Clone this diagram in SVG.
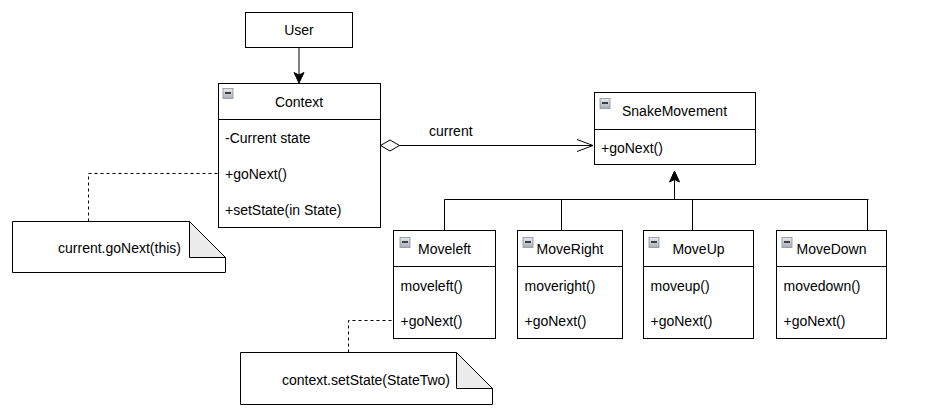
<svg xmlns="http://www.w3.org/2000/svg" width="929" height="416" viewBox="0 0 929 416">
<defs>
<style>
.box{fill:#fff;stroke:#000;stroke-width:1}
.ln{fill:none;stroke:#000;stroke-width:1}
.dash{fill:none;stroke:#000;stroke-width:1;stroke-dasharray:3 3}
.note{fill:#fff;stroke:#000;stroke-width:1}
.fold{fill:#ebebeb;stroke:#000;stroke-width:1;stroke-linejoin:miter}
text{font-family:"Liberation Sans",Arial,sans-serif;font-size:14px;fill:#000}
.c{text-anchor:middle}
.icon{fill:url(#ig);stroke:#8a8f99;stroke-width:0.8}
.minus{stroke:#000;stroke-width:1.4}
</style>
<linearGradient id="ig" x1="0" y1="0" x2="0" y2="1">
<stop offset="0" stop-color="#e8eaee"/>
<stop offset="1" stop-color="#a9aeb8"/>
</linearGradient>
<g id="minusIcon">
<rect class="icon" x="0.5" y="0.5" width="10" height="10"/>
<line class="minus" x1="2.5" y1="5" x2="8.5" y2="5"/>
</g>
</defs>
<rect width="929" height="416" fill="#fff"/>

<g id="connectors">
<line class="ln" x1="299" y1="47.5" x2="299" y2="78"/>
<path d="M299,83 L294,72.5 L299,75 L304,72.5 Z" fill="#000" stroke="#000" stroke-width="1"/>
<line class="ln" x1="399" y1="145.5" x2="593" y2="145.5"/>
<path class="box" d="M380.5,145.5 L390,140 L399.5,145.5 L390,151 Z"/>
<path class="ln" d="M577,139.5 L593,145.5 L577,151.5"/>
<text x="429" y="135.5">current</text>
<path class="ln" d="M444.5,230.5 V199.5 H868.5 M561.5,199.5 V230.5 M692.5,199.5 V230.5 M867.5,199.5 V230.5 M674.5,199.5 V176"/>
<path d="M674.5,171 L669.5,182 L674.5,179.5 L679.5,182 Z" fill="#000" stroke="#000" stroke-width="1"/>
<path class="dash" d="M88.5,221.5 V173.5 H218.5"/>
<path class="dash" d="M348.5,352.5 V320.5 H393.5"/>
</g>

<g id="user">
<rect class="box" x="245.5" y="12.5" width="107" height="35"/>
<text class="c" x="299" y="35">User</text>
</g>

<g id="context">
<rect class="box" x="218.5" y="83.5" width="162" height="144"/>
<line class="ln" x1="218.5" y1="119.5" x2="380.5" y2="119.5"/>
<use href="#minusIcon" x="222.5" y="88"/>
<text class="c" x="299" y="107">Context</text>
<text x="225" y="143">-Current state</text>
<text x="225" y="179">+goNext()</text>
<text x="225" y="215">+setState(in State)</text>
</g>

<g id="snakemovement">
<rect class="box" x="594.5" y="92.5" width="161" height="72"/>
<line class="ln" x1="594.5" y1="129.5" x2="755.5" y2="129.5"/>
<use href="#minusIcon" x="599.5" y="98"/>
<text class="c" x="674.5" y="116">SnakeMovement</text>
<text x="601" y="153">+goNext()</text>
</g>

<g id="moveleft">
<rect class="box" x="393.5" y="230.5" width="102" height="108"/>
<line class="ln" x1="393.5" y1="266.5" x2="495.5" y2="266.5"/>
<use href="#minusIcon" x="399.5" y="237"/>
<text class="c" x="444.5" y="254">Moveleft</text>
<text x="400.5" y="290.5">moveleft()</text>
<text x="400.5" y="325.5">+goNext()</text>
</g>

<g id="moveright">
<rect class="box" x="517.5" y="230.5" width="105" height="108"/>
<line class="ln" x1="517.5" y1="266.5" x2="622.5" y2="266.5"/>
<use href="#minusIcon" x="522.5" y="237"/>
<text class="c" x="570" y="254">MoveRight</text>
<text x="524.5" y="290.5">moveright()</text>
<text x="524.5" y="325.5">+goNext()</text>
</g>

<g id="moveup">
<rect class="box" x="643.5" y="230.5" width="110" height="108"/>
<line class="ln" x1="643.5" y1="266.5" x2="753.5" y2="266.5"/>
<use href="#minusIcon" x="648.5" y="237"/>
<text class="c" x="698.5" y="254">MoveUp</text>
<text x="650.5" y="290.5">moveup()</text>
<text x="650.5" y="325.5">+goNext()</text>
</g>

<g id="movedown">
<rect class="box" x="776.5" y="230.5" width="110" height="108"/>
<line class="ln" x1="776.5" y1="266.5" x2="886.5" y2="266.5"/>
<use href="#minusIcon" x="781.5" y="237"/>
<text class="c" x="831.5" y="254">MoveDown</text>
<text x="783.5" y="290.5">movedown()</text>
<text x="783.5" y="325.5">+goNext()</text>
</g>

<g id="note1">
<path class="note" d="M12.5,221.5 H189.5 L225.5,257.5 V272.5 H12.5 Z"/>
<path class="fold" d="M189.5,221.5 V257.5 H225.5 Z"/>
<text class="c" x="119.5" y="253">current.goNext(this)</text>
</g>

<g id="note2">
<path class="note" d="M240.5,352.5 H456.5 L492.5,388.5 V404.5 H240.5 Z"/>
<path class="fold" d="M456.5,352.5 V388.5 H492.5 Z"/>
<text class="c" x="366" y="385">context.setState(StateTwo)</text>
</g>
</svg>
